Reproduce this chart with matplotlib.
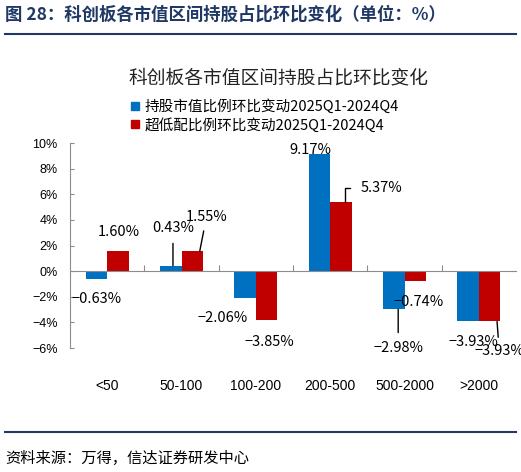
import matplotlib
matplotlib.use("Agg")
import matplotlib.pyplot as plt
from matplotlib.ticker import FixedLocator, FuncFormatter
from matplotlib.lines import Line2D
import numpy as np

# data
categories = ['<50', '50-100', '100-200', '200-500', '500-2000', '>2000']
holding_change = [-0.63, 0.43, -2.06, 9.17, -2.98, -3.93]
overweight_change = [1.60, 1.55, -3.85, 5.37, -0.74, -3.93]
series_names = ['持股市值比例环比变动2025Q1-2024Q4', '超低配比例环比变动2025Q1-2024Q4']

BLUE = '#0070C0'
RED = '#C00000'
NAVY = '#1F3864'
GRAY = '#8C8C8C'
CJK = ['Noto Sans CJK SC', 'DejaVu Sans']
LAT = ['Liberation Sans', 'DejaVu Sans']

fig = plt.figure(figsize=(5.21, 4.72), dpi=100)
ax = fig.add_axes([0.1344, 0.2627, 0.856, 0.4343])

x = np.arange(len(categories))
w = 0.29
ax.bar(x - w / 2, holding_change, w, color=BLUE, label=series_names[0])
ax.bar(x + w / 2, overweight_change, w, color=RED, label=series_names[1])

ax.set_xlim(-0.5, len(categories) - 0.5)
ax.set_ylim(-6, 10)
ax.yaxis.set_major_locator(FixedLocator(np.arange(-6, 11, 2)))
ax.yaxis.set_major_formatter(FuncFormatter(lambda v, p: f"{v:.0f}%".replace('-', '−')))
for lab in ax.get_yticklabels():
    lab.set_family(LAT)
ax.tick_params(axis='y', labelsize=9, length=3, color=GRAY, direction='in', pad=9)

# x axis sits on zero, separators between categories, labels far below
for s in ['top', 'right']:
    ax.spines[s].set_visible(False)
ax.spines['left'].set_color(GRAY)
ax.spines['bottom'].set_position(('data', 0))
ax.spines['bottom'].set_color(GRAY)
ax.xaxis.set_major_locator(FixedLocator(x[:-1] + 0.5))
ax.xaxis.set_major_formatter(FuncFormatter(lambda v, p: ''))
ax.xaxis.set_minor_locator(FixedLocator(x))
ax.set_xticklabels(categories, minor=True, family=LAT, fontsize=10)
ax.tick_params(axis='x', which='major', direction='in', length=4, color=GRAY)
ax.tick_params(axis='x', which='minor', length=0, pad=78)

# value labels: (x offset from bar, label y) in data units, leader line style
blue_lab = [(0.0, -2.19, None), (0.03, 3.36, 'v'), (-0.30, -3.67, None),
            (-0.12, 9.45, None), (0.06, -6.0, 'v'), (0.07, -5.55, None)]
red_lab = [(0.01, 3.05, None), (0.19, 4.22, 'l'), (0.04, -5.55, None),
           (0.54, 6.48, 'hook'), (0.05, -2.42, None), (0.13, -6.25, 'l')]

def put_labels(vals, xs, spec):
    for xi, v, (dx, ly, kind) in zip(xs, vals, spec):
        txt = f"{v:.2f}%".replace('-', '−')
        kw = dict(ha='center', va='center', fontsize=10.5, family=CJK, color='black',
                  annotation_clip=False)
        if kind is None:
            ax.annotate(txt, xy=(xi + dx, ly), **kw)
        elif kind == 'v':
            ax.annotate(txt, xy=(xi + dx, v), xytext=(xi + dx, ly),
                        arrowprops=dict(arrowstyle='-', color='black', lw=1.0,
                                        shrinkA=4, shrinkB=0), **kw)
        elif kind == 'l':
            ax.annotate(txt, xy=(xi + 0.1 * np.sign(dx), v), xytext=(xi + dx, ly),
                        arrowprops=dict(arrowstyle='-', color='black', lw=1.0,
                                        shrinkA=3, shrinkB=0), **kw)
        else:
            ax.annotate(txt, xy=(xi + 0.05, v), xytext=(xi + dx, ly),
                        arrowprops=dict(arrowstyle='-', color='black', lw=1.0,
                                        connectionstyle='angle,angleA=0,angleB=90,rad=0',
                                        relpos=(0, 0.5), shrinkA=5, shrinkB=0), **kw)

put_labels(holding_change, x - w / 2, blue_lab)
put_labels(overweight_change, x + w / 2, red_lab)

# chart title and legend
fig.text(0.534, 1 - 78 / 472, '科创板各市值区间持股占比环比变化', ha='center', va='center',
         fontsize=13.5, family=CJK, color='#222222')
handles = [Line2D([], [], marker='s', ls='none', color=BLUE, markersize=5.5),
           Line2D([], [], marker='s', ls='none', color=RED, markersize=5.5)]
fig.legend(handles, series_names, loc='upper left', bbox_to_anchor=(0.232, 1 - 92 / 472),
           frameon=False, handletextpad=0.1, labelspacing=0.25, borderpad=0,
           handlelength=1.0, prop={'family': CJK, 'size': 10.5})

# header / footer of the report figure
fig.text(0.01, 1 - 15 / 472, '图 28：科创板各市值区间持股占比环比变化（单位：%）', ha='left',
         va='center', fontsize=12.5, fontweight='bold', family=CJK, color=NAVY)
fig.add_artist(Line2D([0.01, 0.99], [1 - 34 / 472, 1 - 34 / 472], color=NAVY, lw=1.5))
fig.add_artist(Line2D([0.01, 0.99], [1 - 432 / 472, 1 - 432 / 472], color=NAVY, lw=1.5))
fig.text(0.01, 1 - 458 / 472, '资料来源：万得，信达证券研发中心', ha='left', va='center',
         fontsize=11, style='italic', family=CJK, color='black')

fig.savefig('out.png', dpi=100)
